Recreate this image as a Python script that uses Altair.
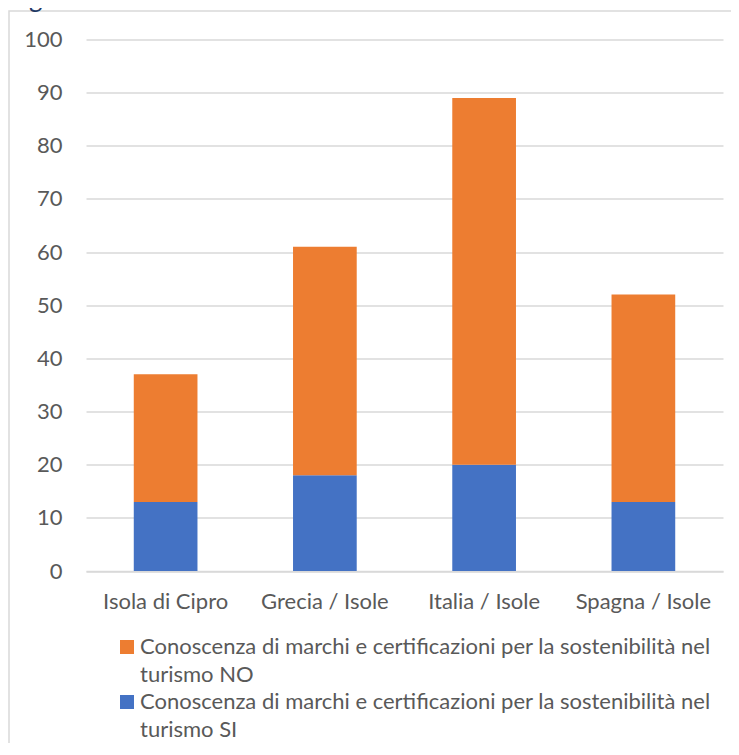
import altair as alt
import pandas as pd

# ---- data ----
categories = ["Isola di Cipro", "Grecia / Isole", "Italia / Isole", "Spagna / Isole"]
si_values = [13, 18, 20, 13]
no_values = [24, 43, 69, 39]
series_no = "Conoscenza di marchi e certificazioni per la sostenibilità nel turismo NO"
series_si = "Conoscenza di marchi e certificazioni per la sostenibilità nel turismo SI"
series_order = [series_no, series_si]
series_colors = ["#ED7D31", "#4472C4"]
y_ticks = list(range(0, 101, 10))
title_text = "Fig. 7: Conoscenza dei marchi e certificazioni"

rows = []
for c, s, n in zip(categories, si_values, no_values):
    rows.append({"cat": c, "series": series_si, "value": s, "stackorder": 0})
    rows.append({"cat": c, "series": series_no, "value": n, "stackorder": 1})
df = pd.DataFrame(rows)

legend_df = pd.DataFrame({
    "series": series_order,
    "label": [s.replace(" turismo", "\nturismo") for s in series_order],
})

FONT = "Lato"
FS = 22
GREY = "#595959"
W, H = 637, 531.5

color_scale = alt.Scale(domain=series_order, range=series_colors)

bars = alt.Chart(df).mark_bar().encode(
    x=alt.X("cat:N", sort=categories,
            scale=alt.Scale(paddingInner=0.6, paddingOuter=0.3),
            axis=alt.Axis(title=None, labelAngle=0, ticks=False, domain=True,
                          domainColor="#d9d9d9", domainWidth=1.5,
                          labelFont=FONT, labelFontSize=FS, labelColor=GREY,
                          labelBaseline="alphabetic", labelPadding=37)),
    y=alt.Y("value:Q", stack="zero",
            scale=alt.Scale(domain=[0, 100], nice=False),
            axis=alt.Axis(title=None, values=y_ticks, ticks=False, domain=False,
                          grid=True, gridColor="#d9d9d9", gridWidth=1.5,
                          labelFont=FONT, labelFontSize=FS, labelColor=GREY,
                          labelPadding=24)),
    color=alt.Color("series:N", scale=color_scale, legend=None),
    order=alt.Order("stackorder:Q"),
)

# frame around the chart
frame = alt.Chart(legend_df.head(1)).mark_rect(
    fillOpacity=0, stroke="#d9d9d9", strokeWidth=1.5
).encode(
    x=alt.value(-77), x2=alt.value(900), y=alt.value(-28.5), y2=alt.value(1000)
)

# partially visible title (cut at the top as in the reference)
title = alt.Chart(legend_df.head(1)).mark_text(
    text=title_text, font=FONT, fontSize=26, color="#1F3864",
    align="left", baseline="alphabetic"
).encode(x=alt.value(-78), y=alt.value(-33))

# legend (manual, with wrapped labels)
legend_layers = []
for i, s in enumerate(series_order):
    sub = legend_df[legend_df["series"] == s]
    y0 = 600.5 + i * 55
    sw = alt.Chart(sub).mark_rect().encode(
        x=alt.value(34), x2=alt.value(48),
        y=alt.value(y0), y2=alt.value(y0 + 14),
        color=alt.Color("series:N", scale=color_scale, legend=None),
    )
    tx = alt.Chart(sub).mark_text(
        font=FONT, fontSize=FS, color=GREY, align="left",
        baseline="alphabetic", lineBreak="\n", lineHeight=27.5
    ).encode(x=alt.value(54), y=alt.value(y0 + 14), text="label:N")
    legend_layers += [sw, tx]

chart = alt.layer(frame, title, bars, *legend_layers).properties(
    width=W, height=H,
    autosize=alt.AutoSizeParams(type="none"),
    padding={"left": 78, "top": 31.5, "right": 8, "bottom": 172},
).configure_view(stroke=None)

chart.save("out.html", embed_options={"renderer": "svg", "actions": False})
